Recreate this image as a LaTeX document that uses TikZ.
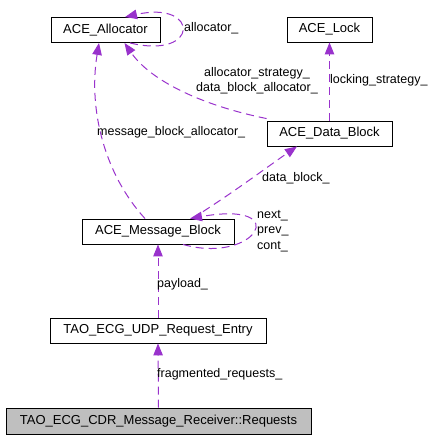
\documentclass[tikz,border=0pt]{standalone}
\usepackage{fontspec}
\setmainfont{Liberation Sans}
\usetikzlibrary{arrows.meta}
\definecolor{edgepurple}{RGB}{153,50,204}
\begin{document}
\begin{tikzpicture}[x=1pt,y=-1pt,
  box/.style={draw,rectangle,line width=.9pt,minimum height=25pt,inner sep=0pt,font=\fontsize{13}{15}\selectfont},
  edge/.style={draw=edgepurple,line width=1pt,dash pattern=on 8pt off 5pt,-{Triangle[length=12pt,width=9.5pt,fill=edgepurple]}},
  lbl/.style={inner sep=0pt,anchor=west,align=left,font=\fontsize{12.5}{15.5}\selectfont}]
\useasboundingbox (0,0) rectangle (439,439);
\node[box,minimum width=109pt] (alloc) at (105.5,30){ACE\_Allocator};
\node[box,minimum width=85pt] (lock) at (329.5,29.5){ACE\_Lock};
\node[box,minimum width=125pt] (dblk) at (329.5,133.5){ACE\_Data\_Block};
\node[box,minimum width=152pt] (mblk) at (158,231.5){ACE\_Message\_Block};
\node[box,minimum width=216pt] (entry) at (158,330.5){TAO\_ECG\_UDP\_Request\_Entry};
\node[box,minimum width=305pt,minimum height=26pt,fill=black!25] (req) at (158.5,421){TAO\_ECG\_CDR\_Message\_Receiver::Requests};
% associations
\draw[edge] ([xshift=24.5pt]alloc.south) .. controls (200,60) and (200,0) .. ([xshift=19.5pt]alloc.north);
\draw[edge] ([xshift=-13pt]mblk.north) .. controls (105,175) and (88,110) .. ([xshift=-6.5pt]alloc.south);
\draw[edge] ([yshift=2pt]dblk.north west) .. controls (200,105) and (150,80) .. ([xshift=19pt]alloc.south);
\draw[edge] (dblk.north) -- (lock.south);
\draw[edge] ([xshift=34pt]mblk.north) .. controls (230,195) and (270,165) .. ([xshift=-32.5pt]dblk.south);
\draw[edge] ([xshift=25pt]mblk.south) .. controls (255,265) and (295,200) .. ([xshift=32pt]mblk.north);
\draw[edge] (entry.north) -- (mblk.south);
\draw[edge] (req.north) -- (entry.south);
% labels
\node[lbl] (l1) at (184,28){allocator\_};
\node[lbl] (l2) at (97,132){message\_block\_allocator\_};
\node[lbl,align=center,anchor=center] (l3) at (257,80.5){allocator\_strategy\_\\data\_block\_allocator\_};
\node[lbl] (l4) at (330,80){locking\_strategy\_};
\node[lbl] (l5) at (262,178){data\_block\_};
\node[lbl] (l6) at (257,231){next\_\\prev\_\\cont\_};
\node[lbl] (l7) at (157,284){payload\_};
\node[lbl] (l8) at (157,374){fragmented\_requests\_};
\end{tikzpicture}
\end{document}
